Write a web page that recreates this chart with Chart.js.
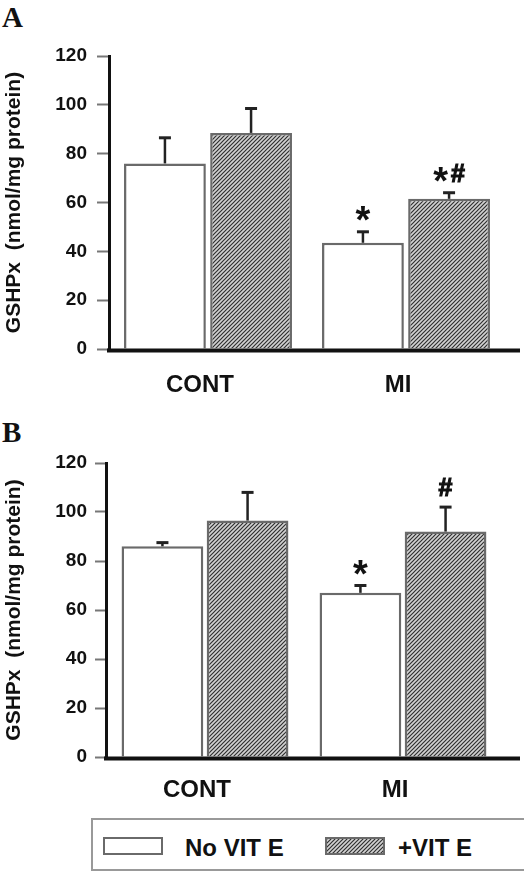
<!DOCTYPE html>
<html>
<head>
<meta charset="utf-8">
<title>GSHPx</title>
<script src="https://cdn.jsdelivr.net/npm/chart.js@4.4.0/dist/chart.umd.min.js"></script>
<style>
  body { margin: 0; background: #fff; width: 524px; height: 872px; overflow: hidden; position: relative; font-family: "Liberation Sans", Arial, sans-serif; }
  .panel { position: absolute; left: 2px; font-family: "Liberation Serif", "Times New Roman", serif; font-weight: bold; font-size: 29px; line-height: 29px; color: #111; }
  #chartA { position: absolute; left: 0; top: 0; }
  #chartB { position: absolute; left: 0; top: 410px; }
  #legendBox { position: absolute; left: 91px; top: 818px; width: 460px; height: 49px; border: 2px solid #999; }
  .swatch { position: absolute; top: 837px; }
  .legText { position: absolute; top: 836px; font-size: 24px; line-height: 24px; font-weight: bold; color: #111; }
</style>
</head>
<body>
<div class="panel" style="top:3px">A</div>
<canvas id="chartA" width="524" height="410"></canvas>
<div class="panel" style="top:418px">B</div>
<canvas id="chartB" width="524" height="405"></canvas>

<div id="legendBox"></div>
<canvas class="swatch" id="swNo" width="60" height="18" style="left:103px"></canvas>
<span class="legText" style="left:185px">No VIT E</span>
<canvas class="swatch" id="swVit" width="60" height="18" style="left:325px"></canvas>
<span class="legText" style="left:398px">+VIT E</span>

<script>
// data
const categories = ['CONT', 'MI'];
const seriesNames = ['No VIT E', '+VIT E'];
const yMin = 0, yMax = 120, yStep = 20;

// panel A
const noVitA = [76, 43.5];
const vitA = [88.5, 61.5];
const errNoVitA = [10.5, 4.5];
const errVitA = [10, 2.5];
const markNoVitA = ['', '*'];
const markVitA = ['', '*#'];

// panel B
const noVitB = [86, 67];
const vitB = [96.5, 92];
const errNoVitB = [1.5, 3];
const errVitB = [11.5, 10];
const markNoVitB = ['', '*'];
const markVitB = ['', '#'];

const FONT = '"Liberation Sans", Arial, sans-serif';

function hatchPattern(ctx) {
  const c = document.createElement('canvas');
  c.width = 4; c.height = 4;
  const p = c.getContext('2d');
  p.fillStyle = '#d2d2d2';
  p.fillRect(0, 0, 4, 4);
  p.strokeStyle = '#303030';
  p.lineWidth = 1.2;
  p.beginPath();
  p.moveTo(0, 4); p.lineTo(4, 0);
  p.moveTo(-1, 1); p.lineTo(1, -1);
  p.moveTo(3, 5); p.lineTo(5, 3);
  p.stroke();
  return ctx.createPattern(c, 'repeat');
}

// error bars (upward only), significance marks and the long base line
const errorBars = {
  id: 'errorBars',
  afterDatasetsDraw(chart) {
    const ctx = chart.ctx;
    const ys = chart.scales.y;
    const area = chart.chartArea;
    ctx.save();
    ctx.strokeStyle = '#111';
    ctx.lineWidth = 4;
    ctx.beginPath();
    ctx.moveTo(area.left - 2, area.bottom + 1.5);
    ctx.lineTo(520, area.bottom + 1.5);
    ctx.stroke();

    chart.data.datasets.forEach((ds, i) => {
      const meta = chart.getDatasetMeta(i);
      meta.data.forEach((bar, j) => {
        const x = bar.x;
        const y0 = ys.getPixelForValue(ds.data[j]);
        const y1 = ys.getPixelForValue(ds.data[j] + ds.errors[j]);
        ctx.strokeStyle = '#222';
        ctx.lineWidth = 2.5;
        ctx.beginPath();
        ctx.moveTo(x, y0);
        ctx.lineTo(x, y1);
        ctx.stroke();
        ctx.lineWidth = 3;
        ctx.beginPath();
        ctx.moveTo(x - 6, y1);
        ctx.lineTo(x + 6, y1);
        ctx.stroke();

        const mark = ds.marks[j];
        if (mark) {
          const cy = y1 - 20;
          const gap = 3;
          const parts = mark.split('').map(ch => {
            const size = ch === '*' ? 38 : 25;
            ctx.font = 'bold ' + size + 'px ' + FONT;
            return { ch: ch, size: size, w: ctx.measureText(ch).width };
          });
          const total = parts.reduce((s, p) => s + p.w, 0) + gap * (parts.length - 1);
          let cx = x - total / 2;
          ctx.fillStyle = '#111';
          ctx.strokeStyle = '#111';
          ctx.lineWidth = 1.2;
          ctx.textAlign = 'left';
          ctx.textBaseline = 'alphabetic';
          parts.forEach(p => {
            ctx.font = 'bold ' + p.size + 'px ' + FONT;
            const base = p.ch === '*' ? cy + 0.56 * p.size : cy + 0.36 * p.size;
            ctx.fillText(p.ch, cx, base);
            if (p.ch === '#') ctx.strokeText(p.ch, cx, base);
            cx += p.w + gap;
          });
        }
      });
    });
    ctx.restore();
  }
};

function makeChart(id, noVit, vit, errNo, errVit, markNo, markVit, g) {
  const canvas = document.getElementById(id);
  const ctx = canvas.getContext('2d');
  return new Chart(ctx, {
    type: 'bar',
    data: {
      labels: categories,
      datasets: [{
        label: seriesNames[0],
        data: noVit,
        errors: errNo,
        marks: markNo,
        backgroundColor: '#ffffff',
        borderColor: '#6a6a6a',
        borderWidth: 2.5
      }, {
        label: seriesNames[1],
        data: vit,
        errors: errVit,
        marks: markVit,
        backgroundColor: hatchPattern(ctx),
        borderColor: '#6a6a6a',
        borderWidth: 2.5
      }]
    },
    options: {
      responsive: false,
      animation: false,
      devicePixelRatio: 1,
      categoryPercentage: g.cat,
      barPercentage: g.bar,
      layout: { padding: { top: g.top, right: canvas.width - g.right, left: 0, bottom: 0 } },
      plugins: { legend: { display: false }, tooltip: { enabled: false } },
      scales: {
        x: {
          grid: { display: false, drawTicks: false },
          border: { display: false },
          ticks: {
            color: '#111',
            padding: g.xPad,
            labelOffset: -8,
            font: { family: FONT, size: 24, weight: 'bold' }
          },
          afterFit(scale) { scale.height = canvas.height - g.bottom; }
        },
        y: {
          min: yMin,
          max: yMax,
          ticks: {
            stepSize: yStep,
            color: '#111',
            padding: g.yPad,
            font: { family: FONT, size: 19, weight: 'bold' }
          },
          grid: { drawOnChartArea: false, drawTicks: true, tickLength: g.tick, tickColor: '#777', tickWidth: 2 },
          border: { display: true, color: '#111', width: 3 },
          title: {
            display: true,
            text: 'GSHPx  (nmol/mg protein)',
            color: '#111',
            padding: { top: 2, bottom: 0 },
            font: { family: FONT, size: 21, weight: 'bold' }
          },
          afterFit(scale) { scale.width = g.left; }
        }
      }
    },
    plugins: [errorBars]
  });
}

makeChart('chartA', noVitA, vitA, errNoVitA, errVitA, markNoVitA, markVitA,
  { left: 109, top: 56, bottom: 349, right: 505, tick: 12, yPad: 10, xPad: 22, cat: 0.87, bar: 0.95 });
makeChart('chartB', noVitB, vitB, errNoVitB, errVitB, markNoVitB, markVitB,
  { left: 106, top: 53, bottom: 347, right: 502, tick: 11, yPad: 8, xPad: 19, cat: 0.86, bar: 0.96 });

// legend swatches
function drawSwatch(id, hatched) {
  const c = document.getElementById(id);
  const ctx = c.getContext('2d');
  ctx.fillStyle = hatched ? hatchPattern(ctx) : '#fff';
  ctx.fillRect(0, 0, c.width, c.height);
  ctx.strokeStyle = '#6a6a6a';
  ctx.lineWidth = 2;
  ctx.strokeRect(1, 1, c.width - 2, c.height - 2);
}
drawSwatch('swNo', false);
drawSwatch('swVit', true);
</script>
</body>
</html>
